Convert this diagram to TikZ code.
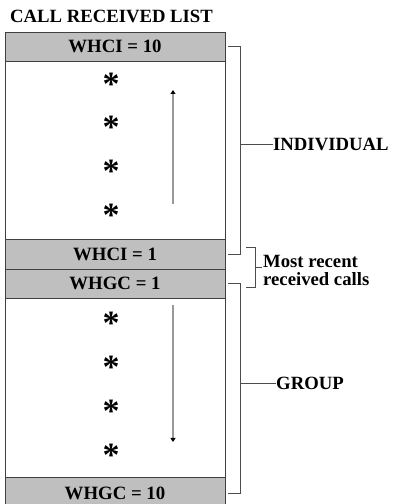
\documentclass[tikz,border=0pt]{standalone}
\usepackage{fontspec}
\setmainfont{Liberation Serif}
\usetikzlibrary{positioning,calc,arrows.meta}

\begin{document}
\begin{tikzpicture}[x=1pt, y=1pt, every node/.style={font=\bfseries}]
	\tikzstyle{grayrow} = [rectangle, minimum width=220pt, minimum height=29pt, inner sep=0pt, outer sep=0pt, fill=gray!50, draw=black!75, line width=0.8pt, font=\fontsize{18.8}{20}\selectfont\bfseries]
	\tikzstyle{whiterow} = [rectangle, minimum width=220pt, inner sep=0pt, outer sep=0pt, fill=white, draw=black!75, line width=0.8pt]
	\tikzstyle{star} = [anchor=base, inner sep=0pt, font=\fontsize{34}{34}\selectfont\bfseries]
	\tikzstyle{side} = [anchor=west, inner sep=0pt, align=left, font=\fontsize{18.7}{18}\selectfont\bfseries]
	\tikzstyle{brace} = [draw=black!70, line width=0.9pt]
	\tikzstyle{flow} = [draw=black!40, line width=1.4pt, -{Triangle[width=5pt,length=4pt,black]}]
	\useasboundingbox (0,0) rectangle (392,504);

	\node (title) [side] at (10,488) {CALL RECEIVED LIST};

	% the list, top to bottom
	\node (hi10) [grayrow] at (115,457.5) {WHCI = 10};
	\node (indbody) [whiterow, minimum height=178pt, below=0pt of hi10] {};
	\node (hi1) [grayrow, minimum height=30pt, below=0pt of indbody] {WHCI = 1};
	\node (hg1) [grayrow, below=0pt of hi1] {WHGC = 1};
	\node (grpbody) [whiterow, minimum height=179pt, below=0pt of hg1] {};
	\node (hg10) [grayrow, minimum height=32pt, below=0pt of grpbody] {WHGC = 10};

	\foreach \y [count=\i] in {81,124,168,212}
		\node (si\i) [star] at (111,489.5-\y) {*};
	\foreach \y [count=\i] in {320,364,408,452}
		\node (sg\i) [star] at (111,489.5-\y) {*};

	\coordinate (upfrom) at (173,300);
	\coordinate (upto) at (173,414);
	\coordinate (downfrom) at (173,199);
	\coordinate (downto) at (173,62);
	\draw [flow] (upfrom) -- (upto);
	\draw [flow] (downfrom) -- (downto);

	% brackets on the right
	\coordinate (indtop) at ($(hi10.east)+(15,0)$);
	\coordinate (grptop) at ($(hg1.east)+(15,0)$);
	\draw [brace] ($(hi10.east)+(3,0)$) -- (indtop) |- ($(hi1.east)+(3,0)$);
	\draw [brace] ($(hg1.east)+(3,0)$) -- (grptop) |- ($(hg10.east)+(3,0)$);
	\coordinate (rectop) at (255,257);
	\draw [brace] (246,257) -- (rectop) -- (255,217) -- (246,217);

	\node (indiv) [side] at (273,360) {INDIVIDUAL};
	\node (group) [side] at (276,121) {GROUP};
	\node (recent) [side] at (263,234) {Most recent\\received calls};

	\draw [brace] (indiv.west) -- (indiv.west -| indtop);
	\draw [brace] (group.west) -- (group.west -| grptop);
	\draw [brace] (255,237) -- (262,237);
\end{tikzpicture}
\end{document}
